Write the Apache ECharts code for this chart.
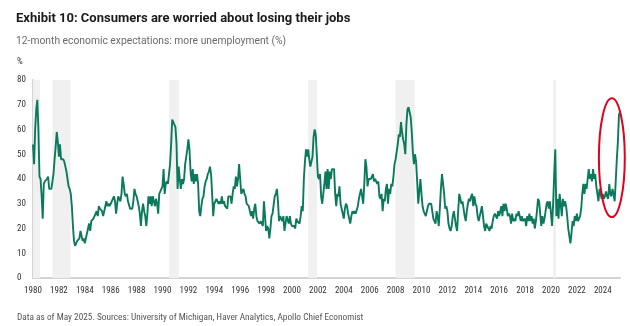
<!DOCTYPE html>
<html><head><meta charset="utf-8">
<script src="https://cdn.jsdelivr.net/npm/echarts@6/dist/echarts.min.js"></script>
<style>html,body{margin:0;padding:0;background:#fff}#c{width:630px;height:326px}</style>
</head><body><div id="c"></div>
<script>
const titleText = 'Exhibit 10: Consumers are worried about losing their jobs';
const subtitleText = '12-month economic expectations: more unemployment (%)';
const unitText = '%';
const footerText = 'Data as of May 2025. Sources: University of Michigan, Haver Analytics, Apollo Chief Economist';

const startYear = 1980; // monthly series from Jan 1980
const values1980s = [
54,46,60,68,72,60,41,40,33,24,38,39,
39,40,41,36,36,36,36,42,48,53,59,55,
49,54,48,48,48,47,45,43,40,37,36,34,
29,21,15,13,14,15,15,16,19,17,15,16,
14,16,18,20,22,19,23,23,24,25,25,27,
25,29,28,28,27,25,27,29,31,29,30,29,
30,31,32,33,31,26,30,33,32,31,34,41,
38,34,33,34,31,31,28,28,28,31,36,34,
33,31,29,26,21,27,30,27,25,21,26,33,
30,33,29,33,33,29,32,30,26,34,35,36];
const values1990s = [
37,44,34,38,39,38,38,46,54,64,63,62,
61,54,36,45,40,36,40,38,40,46,46,52,
56,52,43,39,44,38,42,39,42,38,27,25,
29,32,33,37,39,40,42,43,45,42,34,25,
30,31,32,32,30,31,30,33,30,31,29,29,
28,33,33,33,30,34,37,36,41,37,40,46,
40,34,35,36,34,33,30,30,29,27,25,27,
24,28,30,25,23,23,22,23,22,21,31,25,
19,21,20,16,20,25,26,26,33,34,36,31,
23,25,24,23,25,19,22,25,25,22,25,22];
const values2000s = [
21,21,21,20,24,23,23,22,25,29,27,40,
47,52,49,52,48,45,47,49,57,60,58,50,
41,40,42,33,30,30,38,43,36,44,36,43,
40,44,44,44,34,29,34,33,37,30,28,26,
24,28,30,29,26,24,22,25,27,26,27,26,
26,29,32,34,36,33,30,38,48,45,37,40,
40,40,41,42,39,40,40,38,39,33,32,34,
27,32,31,36,38,30,36,34,38,37,41,46,
48,51,54,58,57,63,59,56,54,50,62,68,
69,67,65,59,51,46,50,47,39,30,35,40];
const values2010s = [
34,29,27,27,25,27,29,30,30,30,27,24,
23,22,27,25,21,28,36,42,38,34,28,29,
27,22,20,19,21,25,27,24,21,19,27,34,
32,30,31,28,25,23,27,30,32,31,33,34,
29,33,30,29,25,23,25,27,29,25,21,19,
22,21,21,19,21,20,23,25,26,25,24,27,
25,27,29,25,30,27,30,28,25,26,25,22,
26,23,24,23,26,25,27,25,23,25,23,23,
24,21,25,23,26,23,25,22,24,20,23,27,
32,31,26,21,25,22,24,27,30,31,28,31];
const values2020s = [
26,21,30,42,52,25,32,24,34,30,25,32,
29,31,29,25,20,17,14,18,23,21,25,23,
26,23,24,25,28,34,38,34,38,36,40,44,
40,42,39,44,40,42,37,34,31,36,34,32,
34,32,33,35,33,32,38,34,33,36,34,31,
39,48,55,66,67];

const recessions = [[1980.0,1980.55],[1981.5,1982.9],[1990.5,1991.27],[2001.25,2001.93],[2008.0,2009.48],[2020.17,2020.38]];
const xMin = 1980, xMax = 2025.33, xStep = 2;
const yMin = 0, yMax = 80, yStep = 10;
const highlightBox = {x0: 2023.7, x1: 2025.7, y0: 24.6, y1: 72.6};

const values = [].concat(values1980s, values1990s, values2000s, values2010s, values2020s);
const seriesData = values.map((v, i) => [startYear + i / 12, v]);

const labelFont = "'Liberation Sans Narrow','Roboto Condensed','Arial Narrow',sans-serif";
const chart = echarts.init(document.getElementById('c'), null, {renderer: 'canvas'});
chart.setOption({
  animation: false,
  backgroundColor: '#fff',
  title: [
    {text: titleText, left: 11, top: 7, textStyle: {fontFamily: 'Roboto', fontSize: 13, fontWeight: 'bold', color: '#1a1a1a'}},
    {text: subtitleText, left: 11, top: 31, textStyle: {fontFamily: 'Roboto', fontSize: 10.3, fontWeight: 'normal', color: '#6b6b6b'}},
    {text: unitText, left: 12, top: 52, textStyle: {fontFamily: labelFont, fontSize: 9, fontWeight: 'normal', color: '#333'}},
    {text: footerText, left: 12, top: 308, textStyle: {fontFamily: labelFont, fontSize: 9.3, fontWeight: 'normal', color: '#555'}}
  ],
  grid: {left: 33, right: 10, top: 80, bottom: 48},
  xAxis: {
    type: 'value', min: xMin, max: xMax, interval: xStep,
    axisLine: {show: true, lineStyle: {color: '#d3d3d3', width: 2}},
    axisTick: {show: false}, splitLine: {show: false},
    axisLabel: {color: '#333', fontSize: 9, fontFamily: labelFont, margin: 8, showMaxLabel: false, showMinLabel: true, formatter: v => String(Math.round(v))}
  },
  yAxis: {
    type: 'value', min: yMin, max: yMax, interval: yStep,
    axisLine: {show: true, lineStyle: {color: '#d3d3d3', width: 2}},
    axisTick: {show: false}, splitLine: {show: false},
    axisLabel: {color: '#333', fontSize: 9, fontFamily: labelFont, align: 'left', margin: 16}
  },
  series: [{
    type: 'line', data: seriesData, showSymbol: false, symbol: 'none',
    lineStyle: {color: '#0b7a5c', width: 1.9}, z: 3,
    markArea: {silent: true, itemStyle: {color: '#f0f0f0'}, data: recessions.map(r => [{xAxis: r[0]}, {xAxis: r[1]}])}
  }]
});
const p0 = chart.convertToPixel({gridIndex: 0}, [highlightBox.x0, highlightBox.y1]);
const p1 = chart.convertToPixel({gridIndex: 0}, [highlightBox.x1, highlightBox.y0]);
chart.setOption({
  graphic: [{
    type: 'ellipse', z: 10,
    shape: {cx: (p0[0] + p1[0]) / 2, cy: (p0[1] + p1[1]) / 2, rx: Math.abs(p1[0] - p0[0]) / 2, ry: Math.abs(p1[1] - p0[1]) / 2},
    style: {fill: 'none', stroke: '#e3001b', lineWidth: 2}
  }]
});
</script></body></html>
